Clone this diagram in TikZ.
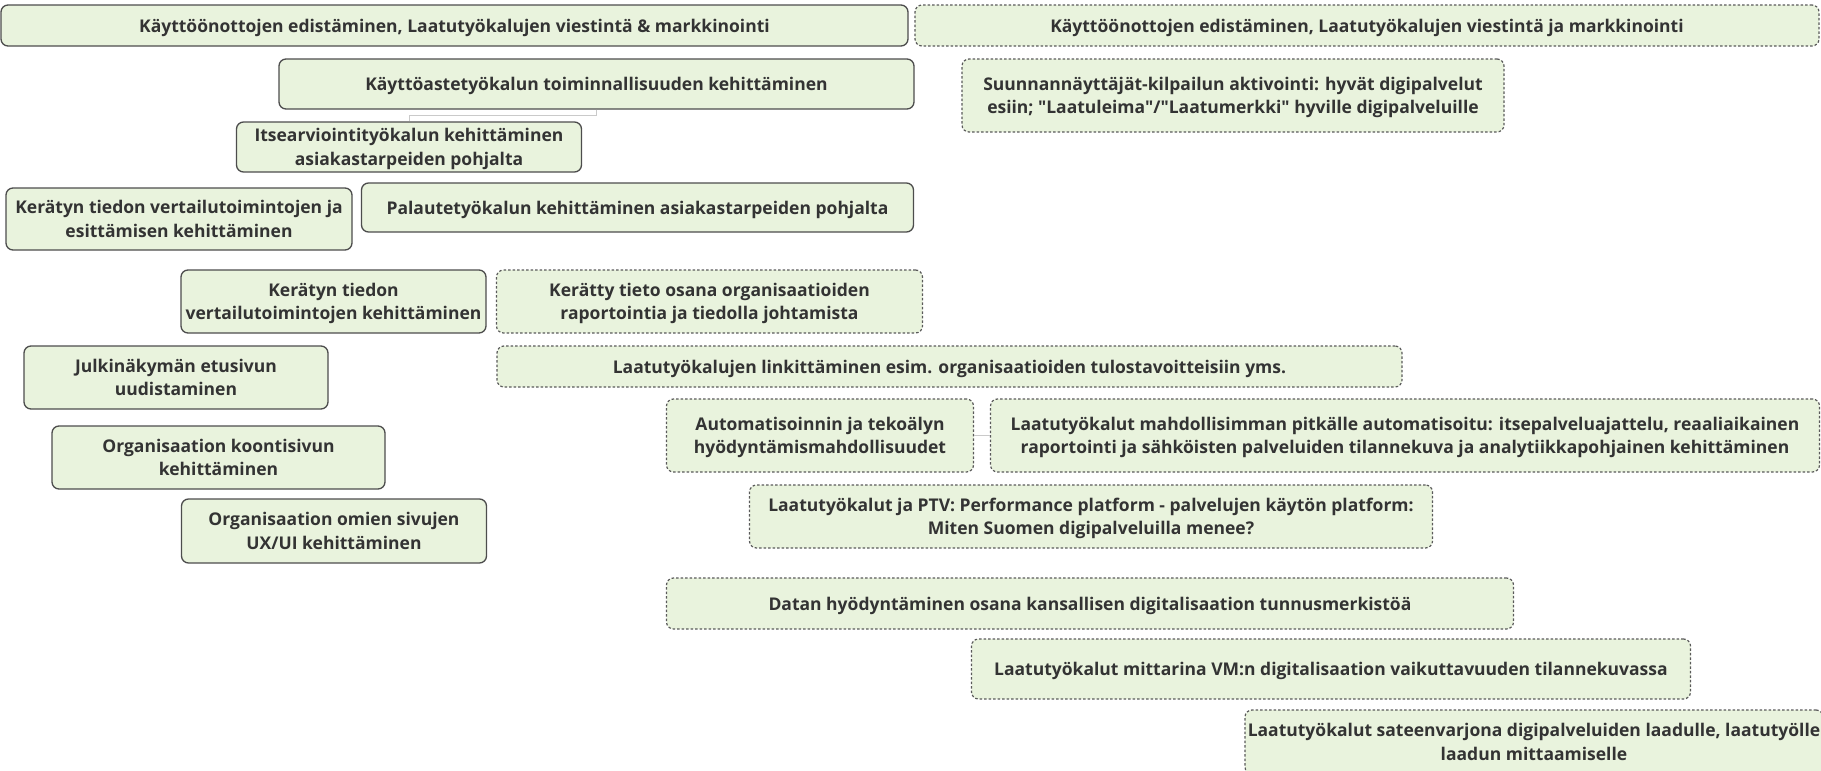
\documentclass[tikz,border=0pt]{standalone}
\usepackage{fontspec}
\setmainfont{Open Sans}[Ligatures=TeXOff]
\definecolor{cardFill}{HTML}{E9F3DD}
\definecolor{cardInk}{HTML}{333333}
\definecolor{cardEdge}{HTML}{4D4D4D}
\definecolor{cardDash}{HTML}{5A5A5A}
\definecolor{linkGrey}{HTML}{CACACA}
\usepackage{tikz}
\usetikzlibrary{positioning}
\tikzset{
  card/.style={rounded corners=7pt, fill=cardFill, text=cardInk, align=center,
    inner sep=0pt, text depth=-3.5pt, font=\fontsize{17.5}{23.5}\selectfont\bfseries},
  solidcard/.style={card, draw=cardEdge, line width=1.3pt},
  dashcard/.style={card, draw=cardDash, line width=1.2pt, dash pattern=on 2.5pt off 2pt},
  link/.style={linkGrey, line width=1pt},
}
\begin{document}
\begin{tikzpicture}[x=1pt, y=-1pt]
  \useasboundingbox (0,0) rectangle (1821,771);
  \node[solidcard, minimum width=907pt, minimum height=41pt] (edist) at (454.5,25.5)
    {Käyttöönottojen edistäminen, Laatutyökalujen viestintä \& markkinointi};
  \node[dashcard, minimum width=904pt, minimum height=41pt] (edistB) at (1367,25.5)
    {Käyttöönottojen edistäminen, Laatutyökalujen viestintä ja markkinointi};
  \node[solidcard, minimum width=635pt, minimum height=50pt] (kaytto) at (596.5,84)
    {Käyttöastetyökalun toiminnallisuuden kehittäminen};
  \node[dashcard, minimum width=542pt, minimum height=73pt] (suunta) at (1233,95.5)
    {Suunnannäyttäjät-kilpailun aktivointi: hyvät digipalvelut\\esiin; "Laatuleima"/"Laatumerkki" hyville digipalveluille};
  \node[solidcard, minimum width=345pt, minimum height=50pt] (itse) at (409,147)
    {Itsearviointityökalun kehittäminen\\asiakastarpeiden pohjalta};
  \node[solidcard, minimum width=346pt, minimum height=62pt] (vertA) at (179,219)
    {Kerätyn tiedon vertailutoimintojen ja\\esittämisen kehittäminen};
  \node[solidcard, minimum width=552pt, minimum height=49pt] (palaute) at (637.5,207.5)
    {Palautetyökalun kehittäminen asiakastarpeiden pohjalta};
  \node[solidcard, minimum width=305pt, minimum height=63pt] (vertB) at (333.5,301.5)
    {Kerätyn tiedon\\vertailutoimintojen kehittäminen};
  \node[dashcard, minimum width=426pt, minimum height=63pt] (raportti) at (709.5,301.5)
    {Kerätty tieto osana organisaatioiden\\raportointia ja tiedolla johtamista};
  \node[solidcard, minimum width=304pt, minimum height=63pt] (julki) at (176,377.5)
    {Julkinäkymän etusivun\\uudistaminen};
  \node[dashcard, minimum width=905pt, minimum height=41pt] (linkitys) at (949.5,366.5)
    {Laatutyökalujen linkittäminen esim. organisaatioiden tulostavoitteisiin yms.};
  \node[solidcard, minimum width=333pt, minimum height=63pt] (koonti) at (218.5,457.5)
    {Organisaation koontisivun\\kehittäminen};
  \node[dashcard, minimum width=307pt, minimum height=73pt] (autom) at (820,435.5)
    {Automatisoinnin ja tekoälyn\\hyödyntämismahdollisuudet};
  \node[dashcard, minimum width=829pt, minimum height=73pt] (itsepalvelu) at (1405,435.5)
    {Laatutyökalut mahdollisimman pitkälle automatisoitu: itsepalveluajattelu, reaaliaikainen\\raportointi ja sähköisten palveluiden tilannekuva ja analytiikkapohjainen kehittäminen};
  \node[solidcard, minimum width=305pt, minimum height=64pt] (omat) at (334,531)
    {Organisaation omien sivujen\\UX/UI kehittäminen};
  \node[dashcard, minimum width=683pt, minimum height=63pt] (ptv) at (1091,516.5)
    {Laatutyökalut ja PTV: Performance platform - palvelujen käytön platform:\\Miten Suomen digipalveluilla menee?};
  \node[dashcard, minimum width=847pt, minimum height=51pt] (datan) at (1090,603.5)
    {Datan hyödyntäminen osana kansallisen digitalisaation tunnusmerkistöä};
  \node[dashcard, minimum width=719pt, minimum height=60pt] (mittari) at (1331,669)
    {Laatutyökalut mittarina VM:n digitalisaation vaikuttavuuden tilannekuvassa};
  \node[dashcard, minimum width=578pt, minimum height=64pt] (sateen) at (1534,742)
    {Laatutyökalut sateenvarjona digipalveluiden laadulle, laatutyölle\\laadun mittaamiselle};
  % connectors
  \draw[link] (kaytto.south) -- ++(0,6) -| (itse.north);
  \draw[link] (autom.east) -- (itsepalvelu.west);
\end{tikzpicture}
\end{document}
